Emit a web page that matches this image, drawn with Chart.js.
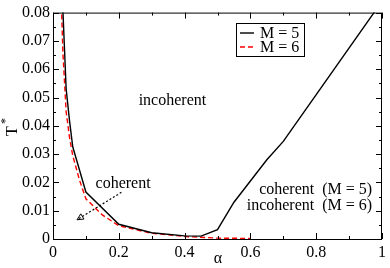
<!DOCTYPE html>
<html>
<head>
<meta charset="utf-8">
<script src="https://cdn.jsdelivr.net/npm/chart.js@4"></script>
<style>
  html, body { margin: 0; padding: 0; background: #fff; }
  #wrap { width: 390px; height: 268px; }
</style>
</head>
<body>
<div id="wrap"><canvas id="chart-phase" width="390" height="268"></canvas></div>
<script>
// ---- data ----
const alphaM5 = [0.03, 0.04, 0.05, 0.06, 0.1, 0.2, 0.3, 0.4, 0.45, 0.5, 0.55, 0.6, 0.65, 0.7, 1.0];
const tM5     = [0.081, 0.053, 0.042, 0.0326, 0.0166, 0.0052, 0.0022, 0.0011, 0.001, 0.0033, 0.013, 0.0205, 0.028, 0.0345, 0.084];

const alphaM6 = [0.025, 0.03, 0.04, 0.05, 0.06, 0.08, 0.1, 0.15, 0.2, 0.3, 0.4, 0.5, 0.6];
const tM6     = [0.085, 0.066, 0.045, 0.036, 0.0295, 0.021, 0.0142, 0.0085, 0.0047, 0.002, 0.0009, 0.0003, 0.0002];

const seriesNames = ["M = 5", "M = 6"];
const xTicks = [0, 0.2, 0.4, 0.6, 0.8, 1];
const yTicks = [0, 0.01, 0.02, 0.03, 0.04, 0.05, 0.06, 0.07, 0.08];

// region labels (data coords)
const regionText  = ["incoherent", "coherent", "coherent  (M = 5)", "incoherent  (M = 6)"];
const regionAlpha = [0.363, 0.213, 0.97, 0.97];
const regionT     = [0.0488, 0.0196, 0.0175, 0.0117];
const regionAlign = ["center", "center", "right", "right"];

// dotted arrow from "coherent" into the region below the curves
const arrowAlpha = [0.208, 0.073];
const arrowT     = [0.0165, 0.0068];

const FONT = "'Liberation Serif', 'DejaVu Serif', serif";

const toXY = (xs, ys) => xs.map((x, i) => ({ x, y: ys[i] }));

// frame, inward ticks, labels, arrow, legend, axis titles
const decor = {
  id: "decor",
  afterDraw(chart) {
    const { ctx, chartArea: a, scales: { x, y } } = chart;
    ctx.save();
    ctx.strokeStyle = "#000";
    ctx.lineWidth = 1;
    ctx.strokeRect(a.left + 0.5, a.top + 0.5, a.right - a.left - 1, a.bottom - a.top);

    const seg = (x1, y1, x2, y2) => {
      ctx.beginPath(); ctx.moveTo(x1, y1); ctx.lineTo(x2, y2); ctx.stroke();
    };
    // x ticks (0.1 steps, major every 0.2)
    for (let i = 0; i <= 10; i++) {
      const px = Math.round(x.getPixelForValue(i / 10)) + 0.5;
      const len = i % 2 === 0 ? 6 : 3;
      seg(px, a.bottom, px, a.bottom - len);
      seg(px, a.top, px, a.top + len);
    }
    // y ticks (0.005 steps, major every 0.01)
    for (let i = 0; i <= 16; i++) {
      const py = Math.round(y.getPixelForValue(i * 0.005)) + 0.5;
      const len = i % 2 === 0 ? 6 : 3;
      seg(a.left, py, a.left + len, py);
      seg(a.right, py, a.right - len, py);
    }

    // region labels
    ctx.fillStyle = "#000";
    ctx.font = "16px " + FONT;
    ctx.textBaseline = "middle";
    regionText.forEach((t, i) => {
      ctx.textAlign = regionAlign[i];
      ctx.fillText(t, x.getPixelForValue(regionAlpha[i]), y.getPixelForValue(regionT[i]));
    });

    // dotted arrow with open head
    const x0 = x.getPixelForValue(arrowAlpha[0]), y0 = y.getPixelForValue(arrowT[0]);
    const x1 = x.getPixelForValue(arrowAlpha[1]), y1 = y.getPixelForValue(arrowT[1]);
    ctx.lineWidth = 1.2;
    ctx.setLineDash([2, 2]);
    seg(x0, y0, x1, y1);
    ctx.setLineDash([]);
    ctx.lineWidth = 1;
    const ang = Math.atan2(y1 - y0, x1 - x0);
    const hl = 7, hw = 0.45;
    ctx.beginPath();
    ctx.moveTo(x1, y1);
    ctx.lineTo(x1 - hl * Math.cos(ang - hw), y1 - hl * Math.sin(ang - hw));
    ctx.lineTo(x1 - hl * Math.cos(ang + hw), y1 - hl * Math.sin(ang + hw));
    ctx.closePath();
    ctx.stroke();

    // legend box
    const lx = 236, ly = 23, lw = 68, lh = 33;
    ctx.strokeStyle = "#000";
    ctx.strokeRect(lx + 0.5, ly + 0.5, lw, lh);
    ctx.textAlign = "left";
    chart.data.datasets.forEach((ds, i) => {
      const yy = ly + 10 + i * 14;
      ctx.strokeStyle = ds.borderColor;
      ctx.lineWidth = ds.borderWidth;
      ctx.setLineDash(ds.borderDash || []);
      seg(lx + 4, yy, lx + 18, yy);
      ctx.setLineDash([]);
      ctx.fillStyle = "#000";
      ctx.fillText(ds.label, lx + 24, yy + 1);
    });

    // axis titles
    ctx.textAlign = "center";
    ctx.fillText("\u03b1", 218, 259);
    ctx.translate(13, 131);
    ctx.rotate(-Math.PI / 2);
    ctx.fillText("T", 0, 0);
    ctx.font = "12px " + FONT;
    ctx.fillText("*", 10, -7);
    ctx.restore();
  }
};

new Chart(document.getElementById("chart-phase"), {
  type: "line",
  data: {
    datasets: [
      {
        label: seriesNames[0],
        data: toXY(alphaM5, tM5),
        borderColor: "#000000",
        borderWidth: 1.4,
        pointRadius: 0,
        tension: 0
      },
      {
        label: seriesNames[1],
        data: toXY(alphaM6, tM6),
        borderColor: "#ff0000",
        borderWidth: 1.4,
        borderDash: [5, 3],
        pointRadius: 0,
        tension: 0
      }
    ]
  },
  options: {
    responsive: false,
    animation: false,
    devicePixelRatio: 1,
    layout: { padding: { top: 6, right: 3, left: 0, bottom: 0 } },
    plugins: { legend: { display: false }, tooltip: { enabled: false } },
    scales: {
      x: {
        type: "linear", min: 0, max: 1,
        afterFit: (s) => { s.height = 29; },
        afterBuildTicks: (s) => { s.ticks = xTicks.map(v => ({ value: v })); },
        grid: { drawOnChartArea: false, drawTicks: false },
        border: { display: false },
        ticks: {
          color: "#000", padding: 4, maxRotation: 0, autoSkip: false,
          font: { family: FONT, size: 16 },
          callback: (v) => v === 0 ? "0" : v === 1 ? "1" : v.toFixed(1)
        }
      },
      y: {
        type: "linear", min: 0, max: 0.08,
        afterFit: (s) => { s.width = 53; },
        afterBuildTicks: (s) => { s.ticks = yTicks.map(v => ({ value: v })); },
        grid: { drawOnChartArea: false, drawTicks: false },
        border: { display: false },
        ticks: {
          color: "#000", padding: 3, autoSkip: false,
          font: { family: FONT, size: 16 },
          callback: (v) => v === 0 ? "0" : v.toFixed(2)
        }
      }
    }
  },
  plugins: [decor]
});
</script>
</body>
</html>
